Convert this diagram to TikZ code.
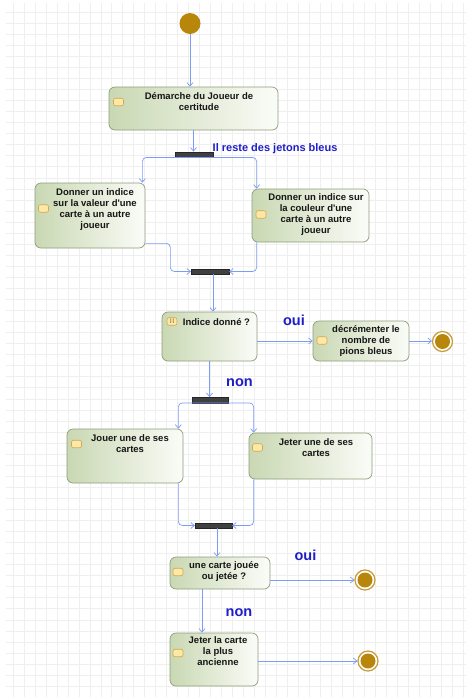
\documentclass[tikz,border=0pt]{standalone}
\usepackage{fontspec}
\setmainfont{Liberation Sans}[Ligatures=TeXOff]
\usetikzlibrary{arrows.meta,calc}

\definecolor{gridc}{HTML}{EFEFEF}
\definecolor{actL}{HTML}{C9D8B3}
\definecolor{actR}{HTML}{FBFCF8}
\definecolor{actB}{HTML}{8F9D7B}
\definecolor{flowc}{HTML}{7C9CF6}
\definecolor{gold}{HTML}{B8860B}
\definecolor{ringc}{HTML}{C99A3A}
\definecolor{iconF}{HTML}{FCE9A8}
\definecolor{iconB}{HTML}{D6A64A}
\definecolor{guard}{HTML}{1E1EC8}
\definecolor{barc}{HTML}{404040}
\definecolor{ink}{HTML}{161616}

\begin{document}
\begin{tikzpicture}[x=1pt,y=-1pt,
  gridline/.style={draw=gridc, line width=0.5pt},
  act/.style={draw=actB, line width=0.7pt, rounded corners=6pt,
    left color=actL, right color=actR, inner sep=0pt},
  forkbar/.style={fill=barc, draw=black!85, line width=0.4pt, inner sep=0pt,
    minimum width=38pt, minimum height=5.5pt},
  icon/.style={draw=iconB, fill=iconF, line width=0.6pt, rounded corners=2pt,
    minimum width=10pt, minimum height=7.5pt, inner sep=0pt},
  acttext/.style={font=\fontsize{9.5}{11}\selectfont\bfseries, text=ink,
    align=center, anchor=north, inner sep=0pt},
  guardtxt/.style={font=\fontsize{14.5}{16}\selectfont\bfseries, text=guard,
    anchor=base, inner sep=0pt},
  initial/.style={circle, fill=gold, minimum size=21pt, inner sep=0pt},
  final/.style={circle, draw=ringc, line width=1.2pt, fill=white,
    minimum size=20pt, inner sep=0pt,
    path picture={\fill[gold] (path picture bounding box.center) circle (7.5pt);}},
  flow/.style={draw=flowc, line width=0.7pt,
    -{Straight Barb[length=3.5pt,width=6pt]}},
]
\useasboundingbox (0,0) rectangle (466,697);
\fill[white] (0,0) rectangle (466,697);

% background grid
\foreach \i in {0,...,41}
  \draw[gridline] ({13+\i*10.97},3) -- ({13+\i*10.97},697);
\foreach \j in {0,...,61}
  \draw[gridline] (6,{12+\j*11.05}) -- (466,{12+\j*11.05});

% initial node
\node[initial] (start) at (190,23.5) {};

% activities
\node[act, minimum width=169pt, minimum height=43pt] (b1) at (193.5,108.5) {};
\node[act, minimum width=110pt, minimum height=65pt] (lb) at (90,215.5) {};
\node[act, minimum width=117pt, minimum height=53pt] (rb) at (310.5,215.5) {};
\node[act, minimum width=95pt, minimum height=49pt] (d1) at (209.5,336.5) {};
\node[act, minimum width=96pt, minimum height=40pt] (dec) at (361,341) {};
\node[act, minimum width=116pt, minimum height=54pt] (jl) at (125,456) {};
\node[act, minimum width=123pt, minimum height=46pt] (jr) at (310.5,456) {};
\node[act, minimum width=100pt, minimum height=32pt] (d2) at (220,573) {};
\node[act, minimum width=88pt, minimum height=53pt] (old) at (214,659.5) {};

% activity icons
\node[icon] (i1) at (118.5,102) {};
\node[icon] (i2) at (43.5,208.5) {};
\node[icon] (i3) at (261,214.5) {};
\node[icon] (i4) at (172,321.5) {};
\node[font=\fontsize{4.5}{5}\selectfont\bfseries, text=iconB!70!black, inner sep=0pt] (i4g) at (172,321.5) {[:]};
\node[icon] (i5) at (322,340.5) {};
\node[icon] (i6) at (76.5,444) {};
\node[icon] (i7) at (257.5,447.5) {};
\node[icon] (i8) at (178,572) {};
\node[icon] (i9) at (178,653) {};

% activity texts
\node[acttext] (t1) at (199,92.8) {Démarche du Joueur de\\certitude};
\node[acttext] (t2) at (95,188.8) {Donner un indice\\sur la valeur d'une\\carte à un autre\\joueur};
\node[acttext] (t3) at (316,193.8) {Donner un indice sur\\la couleur d'une\\carte à un autre\\joueur};
\node[acttext] (t4) at (216.5,318.8) {Indice donné ?};
\node[acttext] (t5) at (366,325.8) {décrémenter le\\nombre de\\pions bleus};
\node[acttext] (t6) at (130,434.8) {Jouer une de ses\\cartes};
\node[acttext] (t7) at (316,438.8) {Jeter une de ses\\cartes};
\node[acttext] (t8) at (224,561.8) {une carte jouée\\ou jetée ?};
\node[acttext] (t9) at (218,636.8) {Jeter la carte\\la plus\\ancienne};

% fork / join bars
\node[forkbar] (f1) at (194,154.5) {};
\node[forkbar] (j1) at (210,271.5) {};
\node[forkbar, minimum width=36pt] (f2) at (210,400) {};
\node[forkbar, minimum width=37pt] (j2) at (213.5,525.5) {};

% final nodes
\node[final] (end1) at (442.5,341.5) {};
\node[final] (end2) at (365,580) {};
\node[final] (end3) at (368,661) {};

% guards
\node[font=\fontsize{11}{13}\selectfont\bfseries, text=guard, anchor=base west, inner sep=0pt]
  (g1) at (212.5,151.7) {Il reste des jetons bleus};
\node[guardtxt] (g2) at (294,325) {oui};
\node[guardtxt] (g3) at (239.5,386) {non};
\node[guardtxt] (g4) at (305.5,560) {oui};
\node[guardtxt] (g5) at (239,616) {non};

% control flow
\draw[flow] (start) -- (b1.north -| start);
\draw[flow] (b1.south) -- (b1.south |- f1.north);
\draw[flow, rounded corners=4pt] (f1.south) -| ($(lb.north east)+(-3,0)$);
\draw[flow, rounded corners=4pt] (f1.south) -| ($(rb.north west)+(5,0)$);
\draw[flow, rounded corners=4pt] ($(lb.south east)+(0,-5)$) -- ++(25,0) |- (j1.west);
\draw[flow, rounded corners=4pt] ($(rb.south west)+(5,0)$) |- (j1.east);
\coordinate (j1o) at ($(j1.south)+(3,0)$);
\draw[flow] (j1o) -- (j1o |- d1.north);
\draw[flow] (d1.east |- dec.west) -- (dec.west);
\draw[flow] (dec.east) -- (dec.east -| end1.west);
\draw[flow] (d1.south) -- (d1.south |- f2.north);
\draw[flow, rounded corners=4pt] (f2.south) -| ($(jl.north east)+(-5,0)$);
\draw[flow, rounded corners=4pt] (f2.south) -| ($(jr.north west)+(5,0)$);
\draw[flow, rounded corners=4pt] ($(jl.south east)+(-5,0)$) |- (j2.west);
\draw[flow, rounded corners=4pt] ($(jr.south west)+(5,0)$) |- (j2.east);
\coordinate (j2o) at ($(j2.south)+(3.5,0)$);
\draw[flow] (j2o) -- (j2o |- d2.north);
\draw[flow] (d2.east |- end2.west) -- (end2.west);
\coordinate (d2o) at ($(d2.south)+(-18,0)$);
\draw[flow] (d2o) -- (d2o |- old.north);
\draw[flow] (old.east |- end3.west) -- (end3.west);
\end{tikzpicture}
\end{document}
